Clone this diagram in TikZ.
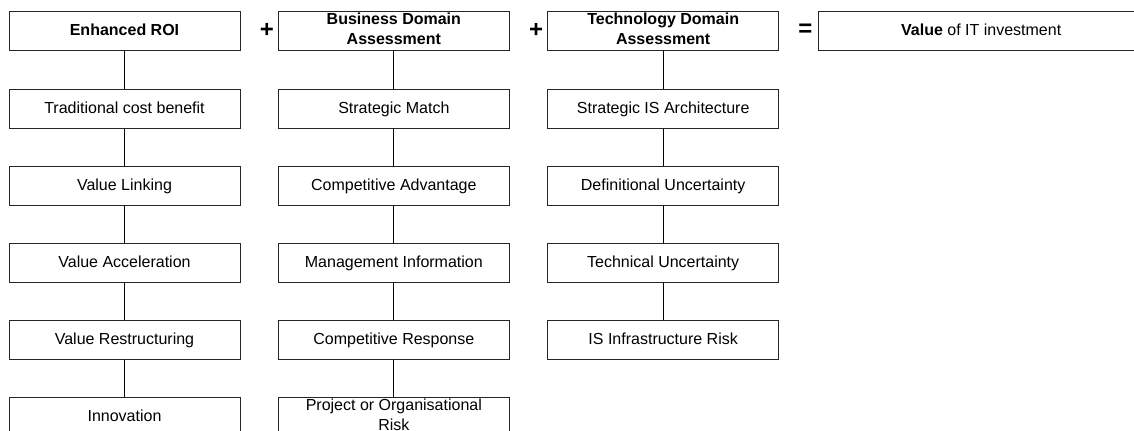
\documentclass[tikz,border=0pt]{standalone}
\usepackage{fontspec}
\setmainfont{Liberation Sans}
\usetikzlibrary{positioning}

\newcommand{\boxstrut}{\rule[-2.5pt]{0pt}{12.5pt}}

\begin{document}
\begin{tikzpicture}[x=0.75pt, y=-0.75pt, node distance=57.75pt and 202pt, on grid,
    item/.style={draw=black!85, line width=0.75pt, minimum width=173.25pt, minimum height=29.25pt,
      inner sep=0pt, align=center, font=\fontsize{12}{15}\selectfont,
      execute at begin node=\boxstrut, execute at end node=\boxstrut},
    head/.style={item, font=\fontsize{12}{15}\selectfont\bfseries},
    sign/.style={inner sep=0pt, font=\fontsize{18}{18}\selectfont\bfseries}]
  \useasboundingbox (0,0) rectangle (1134,430);
  \clip (0,0) rectangle (1134,430);

  % top row
  \node[head] (E) at (124.5,30.5) {Enhanced ROI};
  \node[head] (B) [right=of E] {Business Domain\\Assessment};
  \node[head] (T) [right=of B] {Technology Domain\\Assessment};
  \node[item, minimum width=244.5pt] (V) [right=238.5pt of T] {\textbf{Value} of IT investment};
  \node[sign] (plusA) [right=14.25pt of E.east] {+};
  \node[sign] (plusB) [right=14.25pt of B.east] {+};
  \node[sign] (equals) [right=14.25pt of T.east] {=};

  % enhanced ROI
  \node[item] (E1) [below=58.5pt of E] {Traditional cost benefit};
  \node[item] (E2) [below=of E1] {Value Linking};
  \node[item] (E3) [below=of E2] {Value Acceleration};
  \node[item] (E4) [below=of E3] {Value Restructuring};
  \node[item] (E5) [below=of E4] {Innovation};

  % business domain
  \node[item] (B1) [below=58.5pt of B] {Strategic Match};
  \node[item] (B2) [below=of B1] {Competitive Advantage};
  \node[item] (B3) [below=of B2] {Management Information};
  \node[item] (B4) [below=of B3] {Competitive Response};
  \node[item] (B5) [below=of B4] {Project or Organisational\\Risk};

  % technology domain
  \node[item] (T1) [below=58.5pt of T] {Strategic IS Architecture};
  \node[item] (T2) [below=of T1] {Definitional Uncertainty};
  \node[item] (T3) [below=of T2] {Technical Uncertainty};
  \node[item] (T4) [below=of T3] {IS Infrastructure Risk};

  \path[draw, line width=0.75pt]
    (E) edge (E1) (E1) edge (E2) (E2) edge (E3) (E3) edge (E4) (E4) edge (E5)
    (B) edge (B1) (B1) edge (B2) (B2) edge (B3) (B3) edge (B4) (B4) edge (B5)
    (T) edge (T1) (T1) edge (T2) (T2) edge (T3) (T3) edge (T4);
\end{tikzpicture}
\end{document}
